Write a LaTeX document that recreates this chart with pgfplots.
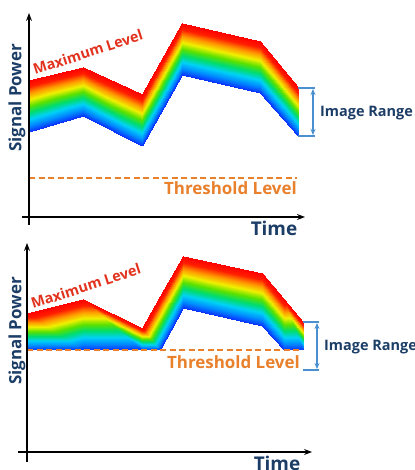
\documentclass[border=0pt]{standalone}
\usepackage{fontspec}
\setmainfont{Open Sans}
\usepackage{pgfplots}
\pgfplotsset{compat=1.18}
\usepgfplotslibrary{patchplots}
\usetikzlibrary{arrows.meta}
\definecolor{navy}{HTML}{1B3D66}
\definecolor{maxred}{HTML}{E2321E}
\definecolor{throrange}{HTML}{E8802C}
\definecolor{brblue}{HTML}{4A90D0}

\pgfplotsset{
  panel/.style={
    x=1bp, y=1bp, anchor=south west,
    axis lines=middle, axis on top,
    axis line style={black, line width=1.1pt, -{Stealth[length=8pt,width=6pt]}},
    xtick=\empty, ytick=\empty, clip=false,
    colormap={band}{rgb255=(10,50,255) rgb255=(0,140,255) rgb255=(0,210,245) rgb255=(0,220,110)
      rgb255=(90,225,0) rgb255=(240,240,0) rgb255=(255,150,0) rgb255=(255,30,0) rgb255=(255,0,0)},
    point meta min=0, point meta max=1,
  },
  bandstyle/.style={patch, patch type=rectangle, shader=interp, point meta=explicit},
}

% top panel band: x, y, meta (0 = lower edge, 1 = maximum level)
\pgfplotstableread{
x   y    c
0   85   0
54  101  0
54  150  1
0   137  1
54  101  0
113 71   0
113 123  1
54  150  1
113 71   0
153 142  0
153 194  1
113 123  1
153 142  0
231 124  0
231 176  1
153 194  1
231 124  0
269 81   0
269 130  1
231 176  1
}\bandA

% bottom panel band (lower edge held at the threshold)
\pgfplotstableread{
x   y     c
0   102   0
56  102   0
56  153   1
0   139   1
56  102   0
115 102   0
115 124   1
56  153   1
115 102   0
133 102   0
133 155.6 1
115 124   1
133 102   0
156 144   0
156 196   1
133 155.6 1
156 144   0
235 126   0
235 179   1
156 196   1
235 126   0
257 102   0
257 152.7 1
235 179   1
257 102   0
276 102   0
276 130   1
257 152.7 1
}\bandB

\begin{document}
\begin{tikzpicture}[x=1bp,y=1bp]
\path[use as bounding box] (0,0) rectangle (414,470);

% ---------- top panel ----------
\begin{axis}[panel, at={(22bp,245bp)}, xmin=-7, xmax=276, ymin=-8, ymax=204]
  \addplot[bandstyle] table[meta=c] {\bandA};
  \addplot[throrange, line width=1.3pt, dash pattern=on 6bp off 3.5bp] coordinates {(0,39) (268,39)};
  \draw[brblue, line width=1.2pt] (axis cs:269,129) -- (axis cs:286,129);
  \draw[brblue, line width=1.2pt] (axis cs:269,81) -- (axis cs:286,81);
  \draw[brblue, line width=1.2pt, {Stealth[length=6pt,width=5pt]}-{Stealth[length=6pt,width=5pt]}] (axis cs:284,128) -- (axis cs:284,82);
  \node[anchor=west, inner sep=0, text=navy, font=\bfseries\fontsize{14.5}{15}\selectfont] at (axis cs:291,104) {Image Range};
  \node[anchor=east, inner sep=0, text=throrange, font=\bfseries\fontsize{17}{18}\selectfont] at (axis cs:268,29) {Threshold Level};
  \node[anchor=base west, inner sep=0, rotate=18, text=maxred, font=\bfseries\fontsize{14.5}{15}\selectfont] at (axis cs:6,142) {Maximum Level};
  \node[rotate=90, inner sep=0, text=navy, font=\bfseries\fontsize{17}{18}\selectfont] at (axis cs:-12,119) {Signal Power};
  \node[inner sep=0, text=navy, font=\bfseries\fontsize{19}{20}\selectfont] at (axis cs:245,-11) {Time};
\end{axis}

% ---------- bottom panel ----------
\begin{axis}[panel, at={(18bp,8bp)}, xmin=-9, xmax=285, ymin=-10, ymax=209]
  \addplot[bandstyle] table[meta=c] {\bandB};
  \addplot[throrange, line width=1.3pt, dash pattern=on 6bp off 3.5bp] coordinates {(0,102) (274,102)};
  \draw[brblue, line width=1.2pt] (axis cs:276,130) -- (axis cs:292,130);
  \draw[brblue, line width=1.2pt] (axis cs:276,82) -- (axis cs:292,82);
  \draw[brblue, line width=1.2pt, {Stealth[length=6pt,width=5pt]}-{Stealth[length=6pt,width=5pt]}] (axis cs:290,129) -- (axis cs:290,83);
  \node[anchor=west, inner sep=0, text=navy, font=\bfseries\fontsize{14.5}{15}\selectfont] at (axis cs:297,105) {Image Range};
  \node[anchor=east, inner sep=0, text=throrange, font=\bfseries\fontsize{17}{18}\selectfont] at (axis cs:273,90) {Threshold Level};
  \node[anchor=base west, inner sep=0, rotate=18, text=maxred, font=\bfseries\fontsize{14.5}{15}\selectfont] at (axis cs:6,143) {Maximum Level};
  \node[rotate=90, inner sep=0, text=navy, font=\bfseries\fontsize{17}{18}\selectfont] at (axis cs:-10,121) {Signal Power};
  \node[inner sep=0, text=navy, font=\bfseries\fontsize{19}{20}\selectfont] at (axis cs:250,-11) {Time};
\end{axis}
\end{tikzpicture}
\end{document}
